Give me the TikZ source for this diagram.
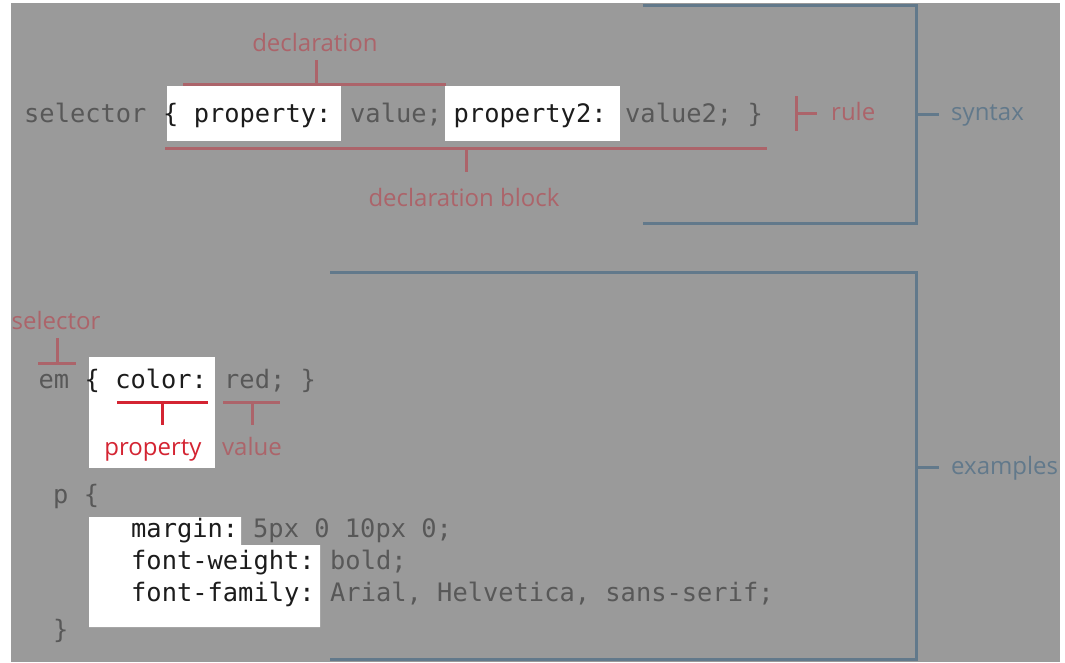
\documentclass[tikz,border=0pt]{standalone}
\usepackage{fontspec}
\setmonofont{DejaVu Sans Mono}
\newfontfamily\lblfont{Open Sans}

\definecolor{veilgray}{RGB}{154,154,154}
\definecolor{dimcode}{RGB}{88,88,88}
\definecolor{dimred}{RGB}{172,100,106}
\definecolor{dimblue}{RGB}{98,121,139}
\definecolor{hotred}{RGB}{212,36,50}
\definecolor{ink}{RGB}{28,28,28}

\tikzset{
  code/.style={font=\ttfamily\fontsize{25.4}{30}\selectfont, inner sep=0pt, anchor=base west},
  dimtext/.style={code, text=dimcode},
  hottext/.style={code, text=ink},
  lbl/.style={font=\lblfont\fontsize{24}{28}\selectfont, inner sep=0pt, anchor=base},
  dimlbl/.style={lbl, text=dimred},
  bluelbl/.style={lbl, text=dimblue, anchor=base west},
  hotlbl/.style={lbl, text=hotred},
  redline/.style={draw=dimred, line width=3pt},
  hotline/.style={draw=hotred, line width=3pt},
  blueline/.style={draw=dimblue, line width=3pt},
}

\begin{document}
\begin{tikzpicture}[x=1pt, y=-1pt]
\useasboundingbox (0,0) rectangle (1065,662);
\fill[white] (0,0) rectangle (1065,662);
\fill[veilgray] (11,3) rectangle (1060,662);

% ---------- syntax: dimmed code line ----------
\node[dimtext] (sel)  at (24,122)  {selector};
\node[dimtext] (val1) at (350,122) {value;};
\node[dimtext] (val2) at (625,122) {value2; \}};

% declaration bracket
\coordinate (declL) at (183,84);
\coordinate (declR) at (446,84);
\node[dimlbl] (decl) at (315,51) {declaration};
\draw[redline] (declL) -- (declR);
\draw[redline] (316,60) -- (316,84);

% declaration block bracket
\coordinate (blkL) at (165,148);
\coordinate (blkR) at (767,148);
\node[dimlbl] (blk) at (464,206) {declaration block};
\draw[redline] (blkL) -- (blkR);
\draw[redline] (466,148) -- (466,172);

% rule bracket
\coordinate (ruleT) at (796,96);
\coordinate (ruleB) at (796,131);
\node[dimlbl, anchor=base west] (rule) at (831,120) {rule};
\draw[redline] (ruleT) -- (ruleB);
\draw[redline] (796,113) -- (817,113);

% syntax bracket
\coordinate (synTL) at (643,5);
\coordinate (synBL) at (643,223);
\draw[blueline] (synTL) -| (916,223) -- (synBL);
\node[bluelbl] (syn) at (951,120) {syntax};
\draw[blueline] (916,114) -- (939,114);

% ---------- examples: dimmed parts ----------
\node[dimtext] (em)   at (38.5,388) {em};
\node[dimtext] (redv) at (224,388)  {red; \}};

% selector bracket
\node[dimlbl] (sellbl) at (56,329) {selector};
\draw[redline] (38,363) -- (76,363);
\draw[redline] (57,338) -- (57,363);

% value bracket
\node[dimlbl] (vallbl) at (252,455) {value};
\draw[redline] (223,402) -- (280,402);
\draw[redline] (252,402) -- (252,425);

\node[dimtext] (popen)  at (53,503)  {p \{};
\node[dimtext] (mval)   at (253,537) {5px 0 10px 0;};
\node[dimtext] (wval)   at (330,569) {bold;};
\node[dimtext] (fval)   at (330,601) {Arial, Helvetica, sans-serif;};
\node[dimtext] (pclose) at (53,638)  {\}};

% examples bracket
\coordinate (exTL) at (330,272);
\coordinate (exBL) at (330,659);
\draw[blueline] (exTL) -| (916,659) -- (exBL);
\node[bluelbl] (ex) at (951,474) {examples};
\draw[blueline] (916,467) -- (939,467);

% ---------- highlighted windows ----------
\fill[white] (167,86) rectangle (341,141);
\node[hottext] (prop1) at (163,122) {\{ property:};

\fill[white] (445,86) rectangle (620,141);
\node[hottext] (prop2) at (453.5,122) {property2:};

\fill[white] (89,357) rectangle (215,468);
\node[hottext] (color) at (84.5,388) {\{ color:};
\draw[hotline] (117,402) -- (208,402);
\draw[hotline] (162,402) -- (162,425);
\node[hotlbl] (proplbl) at (153,455) {property};

\fill[white] (89,517) -- (241,517) -- (241,545) -- (320,545) -- (320,627) -- (89,627) -- cycle;
\node[hottext] (margin) at (131,537) {margin:};
\node[hottext] (weight) at (131,569) {font-weight:};
\node[hottext] (family) at (131,601) {font-family:};

% ---------- page margins ----------
\fill[white] (0,0) rectangle (11,662);
\fill[white] (1060,0) rectangle (1065,662);
\fill[white] (0,0) rectangle (1065,3);
\end{tikzpicture}
\end{document}
